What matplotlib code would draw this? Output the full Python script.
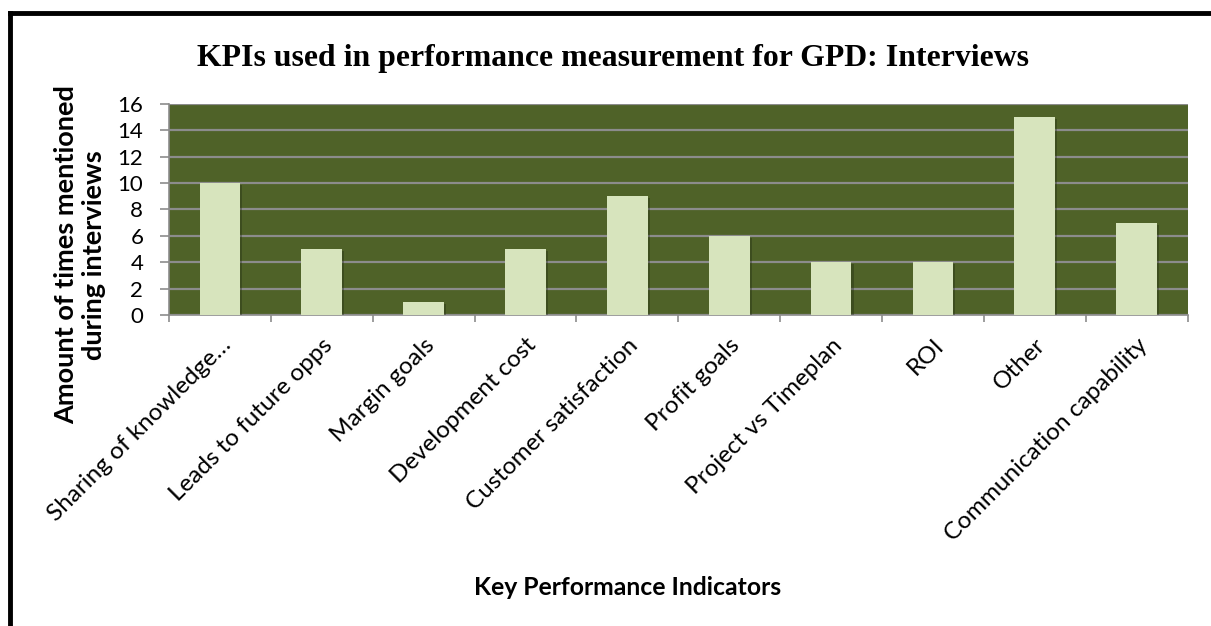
import numpy as np
import matplotlib
matplotlib.use("Agg")
import matplotlib.pyplot as plt
import matplotlib.patheffects as pe
from matplotlib.lines import Line2D

# Data
categories = ["Sharing of knowledge…", "Leads to future opps", "Margin goals",
              "Development cost", "Customer satisfaction", "Profit goals",
              "Project vs Timeplan", "ROI", "Other", "Communication capability"]
counts = [10, 5, 1, 5, 9, 6, 4, 4, 15, 7]
yticks = [0, 2, 4, 6, 8, 10, 12, 14, 16]

bg_green = "#4F6228"
bar_green = "#D7E4BD"
grid_grey = "#8C8C8C"
sans = ["Lato", "DejaVu Sans"]

fig = plt.figure(figsize=(12.11, 6.26), dpi=100)
ax = fig.add_axes([0.1396, 0.4968, 0.8410, 0.3371])

x = np.arange(len(categories))
bars = ax.bar(x, counts, width=0.4, color=bar_green, zorder=3)
for b in bars:
    b.set_path_effects([pe.SimplePatchShadow(offset=(1.5, -1.5), shadow_rgbFace="#1e2610", alpha=0.35),
                        pe.Normal()])

ax.set_facecolor(bg_green)
ax.set_xlim(-0.5, len(categories) - 0.5)
ax.set_ylim(0, 16)
ax.set_yticks(yticks)
ax.yaxis.grid(True, color=grid_grey, linewidth=1.6, zorder=1)
ax.set_axisbelow(True)

for side in ["top", "right"]:
    ax.spines[side].set_visible(False)
ax.spines["left"].set_color(grid_grey)
ax.spines["bottom"].set_color(grid_grey)
ax.spines["left"].set_linewidth(1.2)
ax.spines["bottom"].set_linewidth(1.2)

# category labels at centres, tick marks at the boundaries
ax.set_xticks(x)
ax.set_xticklabels(categories, rotation=45, ha="right", rotation_mode="anchor",
                   fontsize=17.5, family=sans)
ax.set_xticks(np.arange(len(categories) + 1) - 0.5, minor=True)
ax.tick_params(axis="x", which="major", length=0, pad=14)
ax.tick_params(axis="x", which="minor", length=5, color=grid_grey, width=1.2)
ax.tick_params(axis="y", length=6.5, color=grid_grey, width=1.2, pad=12)
for lab in ax.get_yticklabels():
    lab.set_fontsize(16)
    lab.set_family(sans)

fig.text(0.506, 0.906, "KPIs used in performance measurement for GPD: Interviews",
         ha="center", va="center", fontsize=22.9, fontweight="bold",
         family="Liberation Serif")
fig.text(0.066, 0.593, "Amount of times mentioned\nduring interviews", rotation=90,
         ha="center", va="center", fontsize=19.5, fontweight="bold", family=sans,
         linespacing=1.2)
fig.text(0.518, 0.061, "Key Performance Indicators", ha="center", va="center",
         fontsize=17.8, fontweight="bold", family=sans)

# black frame on the top and left edge
fig.add_artist(Line2D([0.0085, 1.0], [0.979, 0.979], color="black", linewidth=3.5,
                      transform=fig.transFigure))
fig.add_artist(Line2D([0.0085, 0.0085], [0.0, 0.979], color="black", linewidth=3.5,
                      transform=fig.transFigure))

fig.savefig("out.png", dpi=100, facecolor="white")
